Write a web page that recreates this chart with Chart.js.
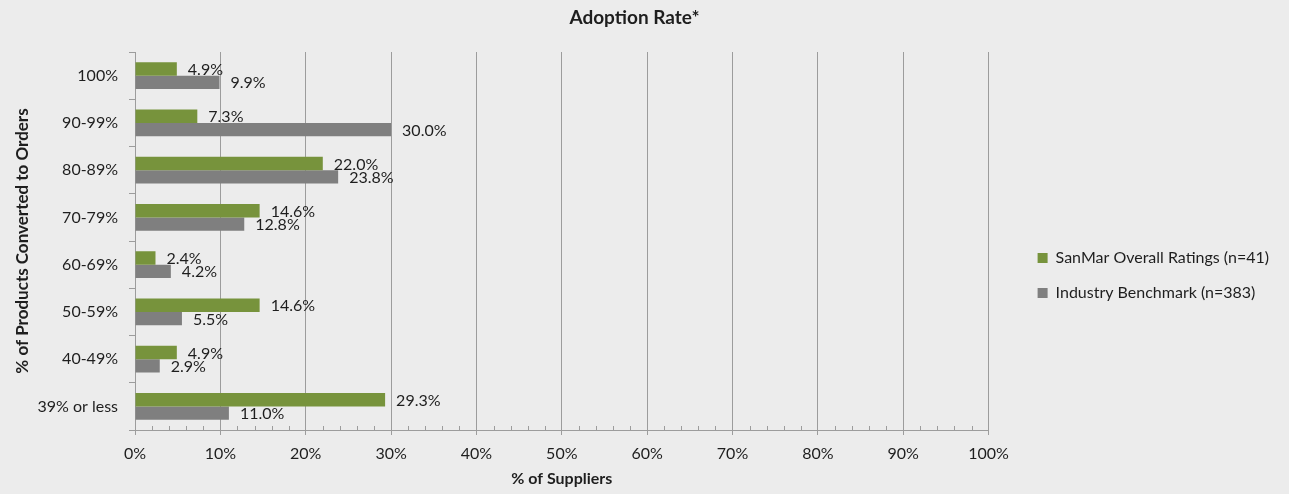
<!DOCTYPE html>
<html>
<head>
<meta charset="utf-8">
<script src="https://cdn.jsdelivr.net/npm/chart.js@4.4.1/dist/chart.umd.min.js"></script>
<style>
  html, body { margin: 0; padding: 0; background: #ececec; }
  #wrap { width: 1289px; height: 494px; position: relative; }
</style>
</head>
<body>
<div id="wrap"><canvas id="c"></canvas></div>
<script>
const categories = ['100%', '90-99%', '80-89%', '70-79%', '60-69%', '50-59%', '40-49%', '39% or less'];
const sanmarValues = [4.9, 7.3, 22.0, 14.6, 2.4, 14.6, 4.9, 29.3];
const benchmarkValues = [9.9, 30.0, 23.8, 12.8, 4.2, 5.5, 2.9, 11.0];
const xTicks = [0, 10, 20, 30, 40, 50, 60, 70, 80, 90, 100];
const seriesNames = ['SanMar Overall Ratings (n=41)', 'Industry Benchmark (n=383)'];
const chartTitle = 'Adoption Rate*';
const xTitle = '% of Suppliers';
const yTitle = '% of Products Converted to Orders';

const FONT = 'Lato, "Open Sans", sans-serif';
const FS = 16;
const TEXT = '#1e1e1e';
const GRID = '#9c9c9c';

// Values printed just past the end of each bar
const valueLabels = {
  id: 'valueLabels',
  afterDatasetsDraw(chart) {
    const ctx = chart.ctx;
    ctx.save();
    ctx.font = FS + 'px ' + FONT;
    ctx.fillStyle = TEXT;
    ctx.textAlign = 'left';
    ctx.textBaseline = 'middle';
    chart.data.datasets.forEach((ds, di) => {
      const meta = chart.getDatasetMeta(di);
      meta.data.forEach((bar, i) => {
        ctx.fillText(ds.data[i].toFixed(1) + '%', bar.x + 11, bar.y + 1);
      });
    });
    ctx.restore();
  }
};

// Minor tick marks every 2% along the value axis, plus the chart heading
const axisExtras = {
  id: 'axisExtras',
  afterDraw(chart) {
    const ctx = chart.ctx;
    const x = chart.scales.x;
    const area = chart.chartArea;
    ctx.save();
    ctx.strokeStyle = GRID;
    ctx.lineWidth = 1;
    ctx.beginPath();
    for (let v = 2; v < 100; v += 2) {
      if (v % 10 === 0) continue;
      const px = Math.round(x.getPixelForValue(v)) + 0.5;
      ctx.moveTo(px, area.bottom);
      ctx.lineTo(px, area.bottom - 4);
    }
    ctx.stroke();

    ctx.font = 'bold 19px ' + FONT;
    ctx.fillStyle = TEXT;
    ctx.textAlign = 'center';
    ctx.textBaseline = 'middle';
    ctx.fillText(chartTitle, chart.width / 2 - 10, 18);
    ctx.restore();
  }
};

new Chart(document.getElementById('c'), {
  type: 'bar',
  data: {
    labels: categories,
    datasets: [
      { label: seriesNames[0], data: sanmarValues, backgroundColor: '#77933c', borderWidth: 0 },
      { label: seriesNames[1], data: benchmarkValues, backgroundColor: '#7f7f7f', borderWidth: 0 }
    ]
  },
  options: {
    indexAxis: 'y',
    responsive: true,
    maintainAspectRatio: false,
    animation: false,
    events: [],
    categoryPercentage: 0.565,
    barPercentage: 1.0,
    layout: { padding: { top: 52, right: 10, left: 0, bottom: 0 } },
    plugins: {
      title: { display: false },
      tooltip: { enabled: false },
      legend: {
        position: 'right',
        align: 'center',
        maxWidth: 400,
        title: { display: true, text: '', font: { size: 1 }, padding: { top: 4, bottom: 0 } },
        labels: {
          font: { family: FONT, size: FS },
          color: TEXT,
          boxWidth: 10,
          boxHeight: 10,
          padding: 19
        }
      }
    },
    scales: {
      x: {
        min: 0,
        max: 100,
        afterBuildTicks(scale) { scale.ticks = xTicks.map(v => ({ value: v })); },
        afterFit(scale) { scale.height = 64; },
        ticks: {
          callback: v => v + '%',
          font: { family: FONT, size: FS },
          color: TEXT,
          padding: 9,
          maxRotation: 0
        },
        grid: { color: GRID, lineWidth: 1, tickLength: 5, drawTicks: true },
        border: { color: GRID, width: 1 },
        title: {
          display: true,
          text: xTitle,
          font: { family: FONT, size: FS, weight: 'bold' },
          color: TEXT,
          padding: { top: 0, bottom: 6 }
        }
      },
      y: {
        afterFit(scale) { scale.width = 135; },
        ticks: {
          font: { family: FONT, size: FS },
          color: TEXT,
          padding: 11
        },
        grid: { drawOnChartArea: false, drawTicks: true, tickLength: 6, color: GRID, offset: true },
        border: { color: GRID, width: 1 },
        title: {
          display: true,
          text: yTitle,
          font: { family: FONT, size: 17, weight: 'bold' },
          color: TEXT,
          padding: { top: 12, bottom: 0 }
        }
      },
      // empty spacer between the plot and the legend
      gap: {
        type: 'linear',
        position: 'right',
        display: true,
        afterFit(scale) { scale.width = 30; },
        grid: { display: false },
        ticks: { display: false },
        border: { display: false }
      }
    }
  },
  plugins: [valueLabels, axisExtras]
});
</script>
</body>
</html>
